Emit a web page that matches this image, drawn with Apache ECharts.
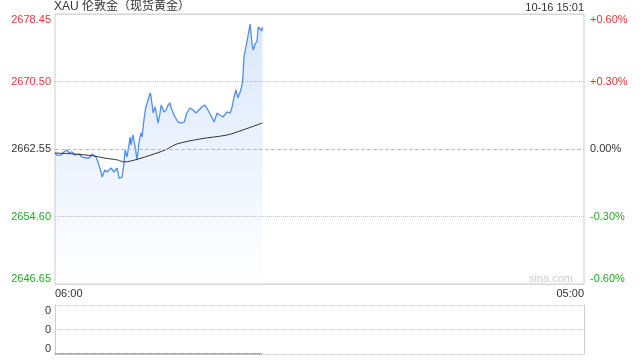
<!DOCTYPE html>
<html><head><meta charset="utf-8">
<script src="https://cdn.jsdelivr.net/npm/echarts@6.0.0/dist/echarts.min.js"></script>
<style>html,body{margin:0;padding:0;background:#fff}#c{width:640px;height:360px}</style>
</head><body><div id="c"></div>
<script>
// ---- data (minutes after 06:00, price) ----
const prevClose = 2662.55;
const times = [0,5,16,23,31,37,44,52,63,70,81,89,97,107,112,120,123,130,136,146,154,162,167,172,175,180,183,188,196,198,203,209,214,219,224,227,232,237,243,248,250,256,261,263,269,274,277,284,290,295,300,303,313,321,331,337,344,352,360,368,373,383,391,399,410,415,423,430,438,449,457,462,467,472,477,483,488,490,493,501,503,509,514,517,522,527,530,535,540,541];
const prices = [2662.08,2661.84,2661.84,2662.20,2662.43,2662.08,2662.20,2661.84,2661.96,2661.61,2661.49,2661.49,2661.96,2661.61,2661.02,2659.84,2659.25,2660.08,2659.84,2660.31,2659.84,2660.31,2659.13,2658.90,2659.25,2660.90,2662.43,2661.61,2663.96,2663.02,2664.20,2662.79,2661.25,2663.26,2664.43,2663.96,2665.97,2667.50,2668.32,2669.15,2668.91,2666.79,2667.50,2667.14,2665.61,2666.79,2667.73,2666.91,2667.14,2667.73,2667.97,2667.38,2666.32,2665.73,2665.61,2665.73,2666.79,2667.38,2667.14,2666.79,2666.91,2667.50,2667.73,2667.14,2666.20,2665.73,2666.79,2666.55,2666.32,2666.91,2666.79,2667.50,2668.67,2669.50,2668.56,2669.26,2670.09,2670.91,2673.39,2675.27,2675.74,2677.27,2674.91,2674.21,2674.91,2675.27,2676.92,2677.04,2676.45,2676.92];
const avgTimes = [0,50,102,128,164,180,217,250,287,318,378,449,490,541];
const avgPrices = [2662.08,2661.96,2661.73,2661.49,2661.25,2661.02,2661.37,2661.84,2662.43,2663.14,2663.73,2664.20,2664.79,2665.61];
const volTimes = [0,541];
const volumes = [0,0];
const xTickLabels = ['06:00','05:00'];
const leftTickLabels = ['2646.65','2654.60','2662.55','2670.50','2678.45'];
const rightTickLabels = ['-0.60%','-0.30%','0.00%','+0.30%','+0.60%'];
const volTickLabels = ['0','0','0'];
const titleText = 'XAU 伦敦金（现货黄金）';
const timeText = '10-16 15:01';

const RED = '#f03333', GREEN = '#22aa22', DARK = '#333';
const tickColors = [GREEN, GREEN, DARK, RED, RED];
const FONT = '"Liberation Sans", Arial, "Noto Sans CJK SC", sans-serif';
const span = 15.9;
const step = 7.95;

const chart = echarts.init(document.getElementById('c'), null, {renderer: 'canvas'});
const priceData = times.map((t, i) => [t, +(prices[i] - prevClose).toFixed(2)]);
const avgData = avgTimes.map((t, i) => [t, +(avgPrices[i] - prevClose).toFixed(2)]);
const volData = volTimes.map((t, i) => [t, volumes[i]]);

chart.setOption({
  animation: false,
  textStyle: {fontFamily: FONT},
  title: [
    {text: titleText, left: 54, top: 1, padding: 0,
     textStyle: {fontSize: 12, fontWeight: 'normal', color: DARK, fontFamily: FONT}},
    {text: timeText, right: 56, top: 2, padding: 0,
     textStyle: {fontSize: 11, fontWeight: 'normal', color: DARK, fontFamily: FONT}}
  ],
  graphic: [{
    type: 'text', right: 67, top: 273,
    style: {text: 'sina.com', fill: '#cccccc', font: '11px ' + FONT}
  }],
  grid: [
    {left: 55, right: 56, top: 14, height: 270, show: true, borderColor: '#cccccc', borderWidth: 1, outerBoundsMode: 'none', containLabel: false},
    {left: 55, right: 56, top: 305, height: 49, outerBoundsMode: 'none', containLabel: false}
  ],
  xAxis: [
    {type: 'value', gridIndex: 0, min: 0, max: 1380, interval: 1380,
     axisLine: {show: false}, axisTick: {show: false}, splitLine: {show: false},
     axisLabel: {show: true, margin: 4, fontSize: 11, color: DARK, fontFamily: FONT,
       alignMinLabel: 'left', alignMaxLabel: 'right',
       formatter: (v, i) => xTickLabels[i] || ''}},
    {type: 'value', gridIndex: 1, min: 0, max: 1380, interval: 1380, show: true,
     axisLine: {show: false}, axisTick: {show: false}, splitLine: {show: false},
     axisLabel: {show: false}}
  ],
  yAxis: [
    {type: 'value', gridIndex: 0, position: 'left', min: -span, max: span, interval: step,
     axisLine: {show: false}, axisTick: {show: false},
     splitLine: {show: true, lineStyle: {type: 'dotted', width: 1,
       color: ['#cccccc', '#c4c4c4', 'rgba(0,0,0,0)', '#c4c4c4', '#cccccc']}},
     axisLabel: {margin: 4, fontSize: 11, fontFamily: FONT,
       verticalAlignMinLabel: 'bottom', verticalAlignMaxLabel: 'top',
       formatter: (v, i) => leftTickLabels[i],
       color: (v, i) => tickColors[i]}},
    {type: 'value', gridIndex: 0, position: 'right', min: -span, max: span, interval: step,
     axisLine: {show: false}, axisTick: {show: false}, splitLine: {show: false},
     axisLabel: {margin: 6, fontSize: 11, fontFamily: FONT,
       verticalAlignMinLabel: 'bottom', verticalAlignMaxLabel: 'top',
       formatter: (v, i) => rightTickLabels[i],
       color: (v, i) => tickColors[i]}},
    {type: 'value', gridIndex: 1, position: 'left', min: 0, max: 2, interval: 1,
     axisLine: {show: true, lineStyle: {color: '#cccccc'}}, axisTick: {show: false},
     splitLine: {show: true, lineStyle: {type: 'dotted', color: '#c4c4c4'}},
     axisLabel: {margin: 4, fontSize: 11, color: DARK, fontFamily: FONT,
       verticalAlignMinLabel: 'bottom', verticalAlignMaxLabel: 'top',
       formatter: (v, i) => volTickLabels[i]}},
    {type: 'value', gridIndex: 1, position: 'right', min: 0, max: 2, interval: 1,
     axisLine: {show: true, lineStyle: {color: '#cccccc'}}, axisTick: {show: false},
     splitLine: {show: false}, axisLabel: {show: false}}
  ],
  series: [
    {type: 'line', xAxisIndex: 0, yAxisIndex: 0, data: priceData, showSymbol: false,
     lineStyle: {color: '#4f8ef0', width: 1.3}, itemStyle: {color: '#4f8ef0'},
     areaStyle: {origin: 'start', color: new echarts.graphic.LinearGradient(0, 0, 0, 1, [
       {offset: 0, color: 'rgba(79,142,240,0.30)'},
       {offset: 1, color: 'rgba(79,142,240,0.0)'}])},
     markLine: {silent: true, symbol: 'none', label: {show: false},
       lineStyle: {type: [4, 2], color: '#bbbbbb', width: 1},
       data: [{yAxis: 0}]},
     z: 2},
    {type: 'line', xAxisIndex: 0, yAxisIndex: 0, data: avgData, showSymbol: false, smooth: 0.3,
     lineStyle: {color: '#333333', width: 1}, itemStyle: {color: '#333'}, z: 3},
    {type: 'line', xAxisIndex: 1, yAxisIndex: 2, data: volData, showSymbol: false,
     lineStyle: {color: '#555555', width: 1}, itemStyle: {color: '#555'}, z: 3}
  ]
});
</script></body></html>
